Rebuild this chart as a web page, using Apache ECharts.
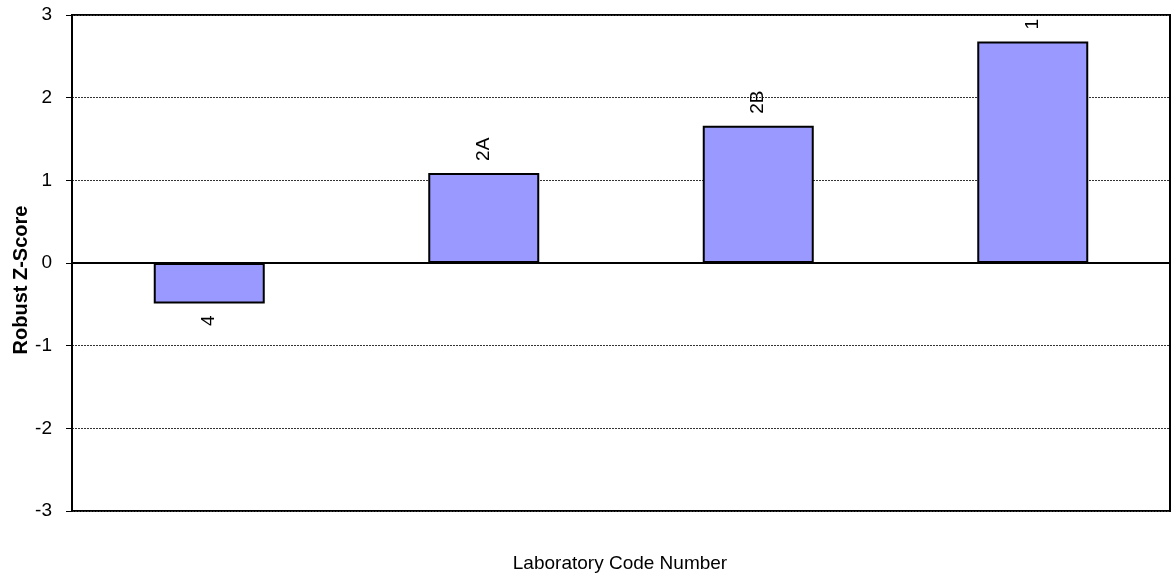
<!DOCTYPE html>
<html>
<head>
<meta charset="utf-8">
<script src="https://cdn.jsdelivr.net/npm/echarts@6/dist/echarts.min.js"></script>
<style>
html,body{margin:0;padding:0;background:#fff;}
#chart{width:1172px;height:573px;}
</style>
</head>
<body>
<div id="chart"></div>
<script>
const categories = ['4', '2A', '2B', '1'];
const zScores = [-0.49, 1.09, 1.66, 2.68];
const yTicks = [-3, -2, -1, 0, 1, 2, 3];

const FONT = 'Liberation Sans, Arial, sans-serif';
const chart = echarts.init(document.getElementById('chart'), null, {renderer: 'canvas'});

const seriesData = zScores.map(function (v, i) {
  const neg = v < 0;
  return {
    value: v,
    label: {
      show: true,
      position: neg ? 'bottom' : 'top',
      rotate: 90,
      align: neg ? 'right' : 'left',
      verticalAlign: 'middle',
      distance: 12,
      formatter: categories[i]
    }
  };
});

chart.setOption({
  animation: false,
  backgroundColor: '#fff',
  title: {
    text: 'Laboratory Code Number',
    left: 615,
    textAlign: 'center',
    top: 549,
    textStyle: {fontFamily: FONT, fontSize: 19, fontWeight: 'normal', color: '#000'}
  },
  grid: {
    left: 72, right: 2, top: 15, bottom: 62,
    containLabel: false,
    outerBoundsMode: 'none',
    show: true, borderColor: '#000', borderWidth: 2, backgroundColor: 'transparent'
  },
  xAxis: {
    type: 'category',
    data: categories,
    axisLine: {onZero: true, lineStyle: {color: '#000', width: 2}},
    axisTick: {show: false},
    axisLabel: {show: false},
    splitLine: {show: false}
  },
  yAxis: {
    type: 'value',
    min: yTicks[0],
    max: yTicks[yTicks.length - 1],
    interval: 1,
    name: 'Robust Z-Score',
    nameLocation: 'middle',
    nameRotate: 90,
    nameGap: 41,
    nameMoveOverlap: false,
    nameTextStyle: {fontFamily: FONT, fontSize: 20, fontWeight: 'bold', color: '#000', padding: [0, 34, 0, 0]},
    axisLine: {show: true, lineStyle: {color: '#000', width: 2}},
    axisTick: {show: true, length: 6, lineStyle: {color: '#000', width: 1}},
    axisLabel: {fontFamily: FONT, fontSize: 19, color: '#000', margin: 20},
    splitLine: {show: true, lineStyle: {color: '#333', width: 1, type: [2, 1]}}
  },
  series: [{
    type: 'bar',
    data: seriesData,
    barWidth: 111,
    itemStyle: {color: '#9999FF', borderColor: '#000', borderWidth: 2},
    label: {fontFamily: FONT, fontSize: 19, color: '#000'}
  }]
});
</script>
</body>
</html>
